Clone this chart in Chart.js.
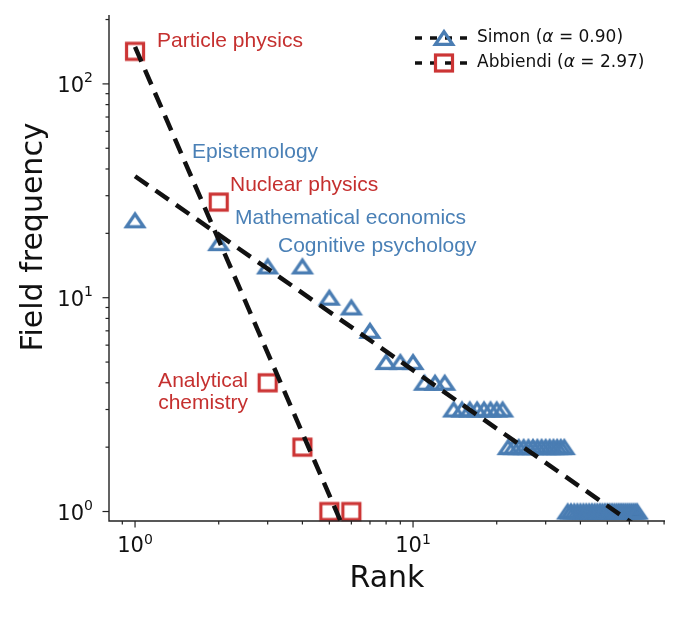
<!DOCTYPE html>
<html><head><meta charset="utf-8">
<script src="https://cdn.jsdelivr.net/npm/chart.js@4.4.1/dist/chart.umd.min.js"></script>
<style>html,body{margin:0;padding:0;background:#fff;}canvas{display:block;}</style>
</head><body>
<canvas id="c" width="700" height="618"></canvas>
<script>
// ---- data ----
const simonRank = [1,2,3,4,5,6,7,8,9,10,11,12,13,14,15,16,17,18,19,20,21,22,23,24,25,26,27,28,29,30,31,32,33,34,35,36,37,38,39,40,41,42,43,44,45,46,47,48,49,50,51,52,53,54,55,56,57,58,59,60,61,62,63,64];
const simonFreq = [23,18,14,14,10,9,7,5,5,5,4,4,4,3,3,3,3,3,3,3,3,2,2,2,2,2,2,2,2,2,2,2,2,2,2,1,1,1,1,1,1,1,1,1,1,1,1,1,1,1,1,1,1,1,1,1,1,1,1,1,1,1,1,1];
const abbRank = [1,2,3,4,5,6];
const abbFreq = [142,28,4,2,1,1];
// fitted power-law lines (end points)
const simonFitX = [1,64];
const simonFitY = [37,0.85];
const abbFitX = [1,6];
const abbFitY = [149,0.69];
const xTickMajors = [1,10];
const yTickMajors = [1,10,100];
const seriesNames = ['Simon', 'Abbiendi'];
const alphas = ['0.90', '2.97'];
const annotations = [
  {text:'Particle physics', x:157, y:47, c:'red', align:'left'},
  {text:'Epistemology', x:192, y:158, c:'blue', align:'left'},
  {text:'Nuclear physics', x:230, y:191, c:'red', align:'left'},
  {text:'Mathematical economics', x:235, y:224, c:'blue', align:'left'},
  {text:'Cognitive psychology', x:278, y:252, c:'blue', align:'left'},
  {text:'Analytical', x:248, y:387, c:'red', align:'right'},
  {text:'chemistry', x:248, y:409, c:'red', align:'right'}
];

const BLUE = '#4a7db3', RED = '#cc3535';
const BLUE_T = '#4a80b6', RED_T = '#c5302f';

function makeTri(color){
  const cv = document.createElement('canvas'); cv.width=28; cv.height=26;
  const g = cv.getContext('2d');
  g.strokeStyle=color; g.lineWidth=3.3; g.lineJoin='miter';
  g.beginPath(); g.moveTo(14,13-6.3); g.lineTo(14-8.6,13+6.3); g.lineTo(14+8.6,13+6.3); g.closePath(); g.stroke();
  return cv;
}
function makeSq(color){
  const cv = document.createElement('canvas'); cv.width=26; cv.height=26;
  const g = cv.getContext('2d');
  g.strokeStyle=color; g.lineWidth=3.2; g.lineJoin='miter';
  g.strokeRect(13-8.5,13-8,17,16);
  return cv;
}
const triImg = makeTri(BLUE), sqImg = makeSq(RED);

const pts = (xs,ys)=>xs.map((x,i)=>({x:x,y:ys[i]}));

const decor = {
  id:'decor',
  afterDatasetsDraw(chart){
    const ctx = chart.ctx, xs = chart.scales.x, ys = chart.scales.y, a = chart.chartArea;
    ctx.save();
    // spines
    ctx.strokeStyle='#222'; ctx.lineWidth=1.4;
    ctx.beginPath(); ctx.moveTo(a.left, a.top); ctx.lineTo(a.left, a.bottom); ctx.lineTo(a.right, a.bottom); ctx.stroke();
    // ticks
    ctx.lineWidth=1.2;
    const xmin=xs.min, xmax=xs.max, ymin=ys.min, ymax=ys.max;
    for(let d=-1; d<=2; d++){
      for(let m=1; m<=9; m++){
        const v = m*Math.pow(10,d);
        if(v>=xmin && v<=xmax){
          const px = xs.getPixelForValue(v); const L = m===1?6.5:3.5;
          ctx.beginPath(); ctx.moveTo(px, a.bottom); ctx.lineTo(px, a.bottom+L); ctx.stroke();
        }
        if(v>=ymin && v<=ymax){
          const py = ys.getPixelForValue(v); const L = m===1?6.5:3.5;
          ctx.beginPath(); ctx.moveTo(a.left, py); ctx.lineTo(a.left-L, py); ctx.stroke();
        }
      }
    }
    // tick labels
    ctx.fillStyle='#111'; ctx.textBaseline='alphabetic';
    const big='21px "DejaVu Sans"', small='14px "DejaVu Sans"';
    function lab(v){ return ['10', String(Math.round(Math.log10(v)))]; }
    yTickMajors.forEach(v=>{
      const py = ys.getPixelForValue(v); const [b,e]=lab(v);
      ctx.font=small; const we=ctx.measureText(e).width;
      ctx.font=big; const wb=ctx.measureText(b).width;
      const right=93; ctx.textAlign='left';
      ctx.fillText(b, right-we-wb, py+8);
      ctx.font=small; ctx.fillText(e, right-we, py-2);
    });
    xTickMajors.forEach(v=>{
      const px = xs.getPixelForValue(v); const [b,e]=lab(v);
      ctx.font=small; const we=ctx.measureText(e).width;
      ctx.font=big; const wb=ctx.measureText(b).width;
      const left=px-(wb+we)/2; ctx.textAlign='left';
      ctx.fillText(b, left, a.bottom+31);
      ctx.font=small; ctx.fillText(e, left+wb, a.bottom+23);
    });
    // axis titles
    ctx.font='30px "DejaVu Sans"'; ctx.textAlign='center';
    ctx.fillText('Rank', (a.left+a.right)/2, 587);
    ctx.save(); ctx.translate(42, 237); ctx.rotate(-Math.PI/2);
    ctx.fillText('Field frequency', 0, 0); ctx.restore();
    // annotations
    ctx.font='21px "Liberation Sans", Arial, sans-serif';
    annotations.forEach(t=>{
      ctx.fillStyle = t.c==='red'?RED_T:BLUE_T; ctx.textAlign=t.align;
      ctx.fillText(t.text, t.x, t.y);
    });
    // legend
    const items=[{img:triImg,y:38},{img:sqImg,y:63}];
    items.forEach((it,i)=>{
      ctx.save();
      ctx.strokeStyle='#111'; ctx.lineWidth=3.5; ctx.setLineDash([7,8]);
      ctx.beginPath(); ctx.moveTo(415,it.y); ctx.lineTo(467,it.y); ctx.stroke();
      ctx.restore();
      ctx.drawImage(it.img, 444-it.img.width/2, it.y-it.img.height/2);
      ctx.fillStyle='#111'; ctx.textAlign='left'; ctx.textBaseline='middle';
      let x=477;
      ctx.font='17px "DejaVu Sans"';
      const s1=seriesNames[i]+' ('; ctx.fillText(s1,x,it.y); x+=ctx.measureText(s1).width;
      ctx.font='italic 17px "DejaVu Sans"'; ctx.fillText('\u03b1',x,it.y); x+=ctx.measureText('\u03b1').width;
      ctx.font='17px "DejaVu Sans"'; ctx.fillText(' = '+alphas[i]+')',x,it.y);
    });
    ctx.restore();
  }
};

new Chart(document.getElementById('c'), {
  type:'scatter',
  data:{datasets:[
    {label:'Simon fit', data:pts(simonFitX,simonFitY), showLine:true, borderColor:'#111', borderWidth:4.5, borderDash:[16,9], pointRadius:0, order:0, clip:0},
    {label:'Abbiendi fit', data:pts(abbFitX,abbFitY), showLine:true, borderColor:'#111', borderWidth:4.5, borderDash:[16,9], pointRadius:0, order:0, clip:0},
    {label:'Simon', data:pts(simonRank,simonFreq), pointStyle:triImg, pointRadius:11, order:2, clip:false},
    {label:'Abbiendi', data:pts(abbRank,abbFreq), pointStyle:sqImg, pointRadius:11, order:1, clip:false}
  ]},
  options:{
    responsive:false, animation:false, devicePixelRatio:1,
    layout:{padding:{left:109,right:35,top:15,bottom:97}},
    plugins:{legend:{display:false}, tooltip:{enabled:false}},
    scales:{
      x:{type:'logarithmic', min:0.806, max:80.6, display:false},
      y:{type:'logarithmic', min:0.903, max:210, display:false}
    }
  },
  plugins:[decor]
});
</script>
</body></html>
